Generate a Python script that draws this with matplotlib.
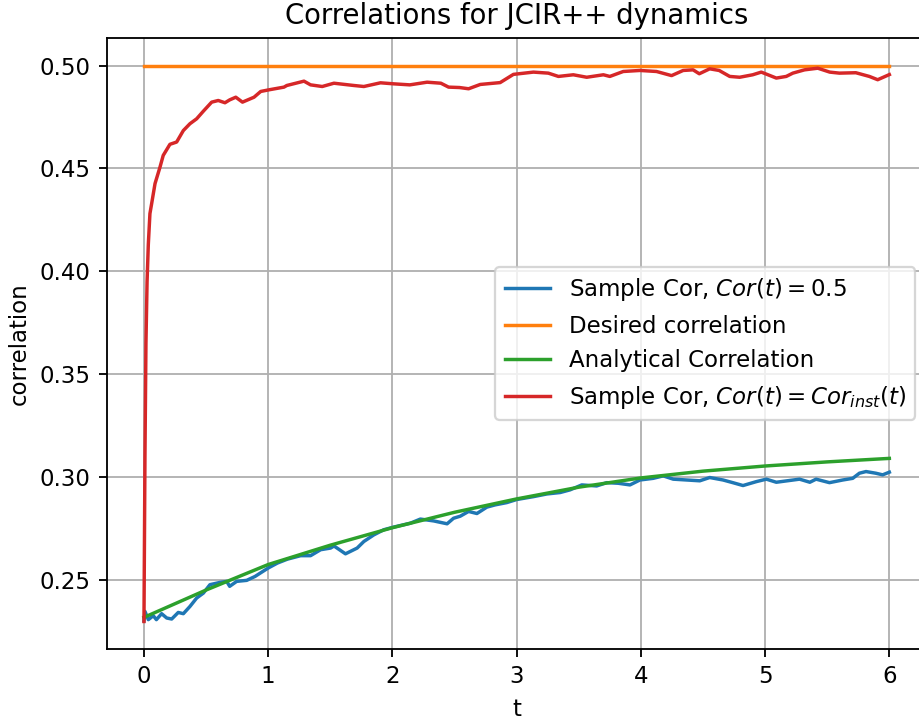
from matplotlib import pyplot as plt

# sample correlation, constant Cor(t)=0.5
t_const = [0, 0.008, 0.035, 0.075, 0.10, 0.142, 0.183, 0.223, 0.276, 0.317,
           0.37, 0.424, 0.478, 0.531, 0.612, 0.666, 0.69, 0.746, 0.827, 0.894,
           0.948, 1.0, 1.074, 1.154, 1.261, 1.341, 1.422, 1.502, 1.53, 1.622,
           1.716, 1.770, 1.85, 1.930, 2.01, 2.145, 2.225, 2.332, 2.44, 2.492,
           2.546, 2.613, 2.68, 2.76, 2.827, 2.92, 3.0, 3.135, 3.243, 3.35,
           3.43, 3.524, 3.644, 3.725, 3.818, 3.912, 3.992, 4.099, 4.18, 4.26,
           4.367, 4.474, 4.554, 4.661, 4.74, 4.822, 4.929, 5.01, 5.09, 5.19,
           5.277, 5.36, 5.41, 5.518, 5.625, 5.705, 5.759, 5.812, 5.89, 5.946,
           6.0]
cor_const = [0.2300, 0.2346, 0.2306, 0.2325, 0.2306, 0.2335, 0.2314, 0.2309, 0.2341, 0.2335,
             0.2370, 0.2411, 0.2435, 0.2476, 0.2487, 0.2492, 0.2468, 0.2492, 0.2497, 0.2516,
             0.2537, 0.2557, 0.2581, 0.2600, 0.2617, 0.2617, 0.2646, 0.2654, 0.2664, 0.2626,
             0.2654, 0.2686, 0.2718, 0.2743, 0.2756, 0.2775, 0.2795, 0.2786, 0.2772, 0.2799,
             0.2809, 0.2832, 0.2822, 0.2853, 0.2864, 0.2875, 0.2890, 0.2904, 0.2917, 0.2924,
             0.2937, 0.2961, 0.2956, 0.2972, 0.2969, 0.2961, 0.2985, 0.2993, 0.3005, 0.2989,
             0.2985, 0.2981, 0.2997, 0.2985, 0.2972, 0.2958, 0.2977, 0.2989, 0.2974, 0.2982,
             0.2989, 0.2974, 0.2989, 0.2972, 0.2985, 0.2993, 0.3018, 0.3026, 0.3018, 0.3010,
             0.3023]

# desired correlation
t_des = [0, 6]
cor_des = [0.5, 0.5]

# analytical correlation
t_an = [0, 0.5, 1.0, 1.5, 2.0, 2.5, 3.0, 3.5, 4.0, 4.5, 5.0, 5.5, 6.0]
cor_an = [0.2317, 0.2450, 0.2574, 0.2668, 0.2753, 0.2828, 0.2893, 0.2950,
          0.2995, 0.3028, 0.3053, 0.3073, 0.3090]

# sample correlation, Cor(t)=Cor_inst(t)
t_inst = [0, 0.008, 0.016, 0.025, 0.035, 0.048, 0.062, 0.089, 0.129, 0.155,
          0.209, 0.263, 0.317, 0.37, 0.424, 0.478, 0.545, 0.598, 0.652, 0.69,
          0.739, 0.793, 0.886, 0.940, 1.007, 1.127, 1.15, 1.288, 1.341, 1.435,
          1.529, 1.689, 1.77, 1.904, 2.01, 2.14, 2.279, 2.39, 2.452, 2.54,
          2.613, 2.707, 2.867, 2.974, 3.135, 3.255, 3.336, 3.456, 3.564, 3.698,
          3.75, 3.858, 3.992, 4.126, 4.247, 4.34, 4.42, 4.47, 4.554, 4.63,
          4.715, 4.795, 4.90, 4.969, 5.09, 5.17, 5.223, 5.317, 5.424, 5.52,
          5.598, 5.73, 5.839, 5.906, 6.0]
cor_inst = [0.2297, 0.31, 0.365, 0.395, 0.413, 0.428, 0.4329, 0.4426, 0.4506, 0.4563,
            0.4617, 0.4628, 0.4684, 0.4717, 0.4741, 0.4778, 0.4822, 0.483, 0.4819, 0.4833,
            0.4846, 0.4822, 0.4846, 0.4874, 0.4882, 0.4895, 0.4903, 0.4924, 0.4906, 0.4898,
            0.4914, 0.4903, 0.4898, 0.4916, 0.4911, 0.4906, 0.4919, 0.4914, 0.4895, 0.4893,
            0.4887, 0.4908, 0.4917, 0.4957, 0.4968, 0.4963, 0.4947, 0.4955, 0.4943, 0.4955,
            0.4947, 0.4971, 0.4976, 0.4971, 0.4951, 0.4976, 0.4979, 0.4960, 0.4984, 0.4976,
            0.4947, 0.4943, 0.4955, 0.4968, 0.4939, 0.4947, 0.4963, 0.4979, 0.4987, 0.4968,
            0.4963, 0.4965, 0.4947, 0.4931, 0.4956]

dpi = 165
fig = plt.figure(figsize=(919/dpi, 720/dpi), dpi=dpi)
# axes run slightly past the right edge, like the reference crop
ax = fig.add_axes([0.1161, 0.0982, 0.8922, 0.8494])

ax.plot(t_const, cor_const, label=r'Sample Cor, $Cor(t) = 0.5$')
ax.plot(t_des, cor_des, label='Desired correlation')
ax.plot(t_an, cor_an, label='Analytical Correlation')
ax.plot(t_inst, cor_inst, label=r'Sample Cor, $Cor(t) = Cor_{inst}(t)$')

ax.set_title('Correlations for JCIR++ dynamics')
ax.set_xlabel('t')
ax.set_ylabel('correlation')
ax.grid()
ax.spines['right'].set_visible(False)
ax.legend(loc='center right')

fig.savefig('out.png', dpi=dpi)
